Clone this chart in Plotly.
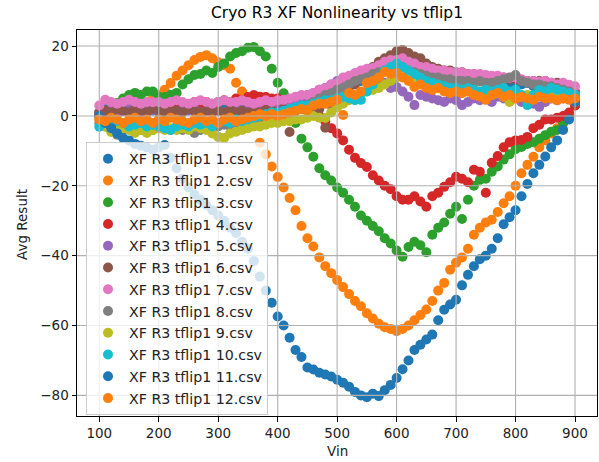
import plotly.graph_objects as go

# ---------------- data ----------------
vin = list(range(100, 901, 10))

series_names = ["XF R3 tflip1 %d.csv" % i for i in range(1, 13)]
colors = ["#1f77b4", "#ff7f0e", "#2ca02c", "#d62728", "#9467bd", "#8c564b",
          "#e377c2", "#7f7f7f", "#bcbd22", "#17becf", "#1f77b4", "#ff7f0e"]

s1 = [1, 2, 1.5, 2.5, 2, 1.5, 2, 2.5, 1.5, 2,
      2.5, 1.5, 2, 2.5, 1.5, 2, 2.5, 1.5, 2, 2.5,
      1.5, 2, 2.5, 2, 1.5, 2.5, 2, 1.5, 2.5, 2,
      2, 2.5, 1.5, 2.5, 3, 4, 4.5, 5, 6, 6.5,
      7, 7.4, 8.5, 9.5, 10, 11, 12, 13, 13.5, 14,
      14, 13.5, 13, 14, 14, 12, 11.5, 11, 10.5, 11,
      11, 10, 10.5, 9.7, 10, 9.5, 9, 9.4, 10, 9,
      9.5, 9, 9.4, 8.5, 8, 8.5, 7.5, 8, 7.5, 7,
      6]
s2 = [0, 0.5, 1, 0.5, 1.5, 1, 2, 2.5,
      3.5, 5, 6, 7.5, 9.4, 11.5, 13, 14.5, 16, 16.9,
      17.4, 16.5, 15.4, 14.5, 13.5, 9.5, 7, 3, -2, -7.7,
      -11, -14.5, -17.5, -20.5, -23.5, -27, -31.5, -35, -37.4, -40.5,
      -43, -45, -47, -49, -51, -53, -54.5, -56.5, -58, -59.5,
      -60.5, -61, -61.6, -61, -60, -58.5, -57, -55.4, -53, -50,
      -47.8, -44, -42, -40.5, -38, -34, -32, -30.5, -29.7, -27.5,
      -25, -23, -20, -16.4, -14, -11.7, -9, -7, -5, -3.5,
      -2, 0, 4]
s3 = [0, 1, 2.5, 3.7, 5, 6, 6.6, 6, 7, 7,
      5.5, 5.4, 6, 6.6, 9, 10.5, 11.7, 12, 13, 12.3,
      14, 15, 17, 18, 18.5, 19.5, 19.7, 18.5, 17, 13.5,
      9.5, 6.5, 3, -2, -6.5, -9, -11.7, -15, -17, -18.5,
      -20.5, -22, -24, -26, -28.5, -30, -31.5, -33, -35, -36.5,
      -38.5, -40.3, -37.5, -36, -37, -39, -34, -32, -30.5, -28,
      -26, -29.5, -24, -20, -18.3, -18, -16, -14.5, -12.5, -11,
      -9.5, -8.9, -8, -7.5, -6.5, -5.5, -4.5, -4, -2, 0,
      3]
s4 = [0, 1, 2, 1.5, 2, 2.5, 2, 3, 2.5, 3,
      3, 2.5, 3.5, 3, 3.5, 3, 4, 3.5, 4, 3.5,
      4, 4.5, 4, 5, 4.5, 5.4, 6, 5.5, 5.4, 5,
      5, 4.5, 4, 3.5, 3, 2, 1, 0, -1.5, -3.5,
      -5, -7, -9.7, -12, -13.5, -14.6, -17, -18.5, -20, -21,
      -23, -24, -24, -23, -24.5, -26, -23, -22, -20.3, -19,
      -17.4, -18, -19, -15.4, -16, -22, -13.4, -11.5, -9, -7.5,
      -7, -6.9, -6, -3.5, -2.5, -1, -1, -0.5, 0, 1,
      3]
s5 = [1, 1.5, 2, 1, 1.5, 2, 1.5, 1, 2, 1.5,
      1, 2, 1.5, 1, 2, 1.5, 2, 1, 1.5, 2,
      1.5, 1, 2, 1.5, 2, 1.5, 2.5, 2, 2.5, 3,
      3, 3.5, 4, 4.5, 5, 6, 6.5, 7.5, 8, 9,
      10, 10.5, 11, 11.7, 11.5, 12, 11.5, 10.5, 9.5, 8,
      8.3, 7, 5.5, 3.1, 6, 5.5, 5, 4.5, 4, 5,
      4.5, 3.1, 4, 5, 4.5, 5, 4, 5.5, 5, 4.5,
      5, 4, 4.5, 3.5, 2.6, 4, 5, 4.5, 5, 5.5,
      5]
s6 = [1, 1.5, 1, 2, 1.5, 1, 2, 1.5, 1, 2,
      1.5, 1, 2, 1.5, 1, 2, 1.5, 1, 1.5, 1,
      1.5, 1, 2, 1, 1.5, 1, 1.5, 1, 2, 1.5,
      1, 2, -4.6, 1.5, 2, 1.5, 2.5, 2, -3.4, 3,
      4, 5.5, 7, 9, 11, 12.5, 14, 15.5, 16.5, 17.4,
      18.5, 18.9, 18, 17, 16.5, 15, 14, 13.5, 13, 13,
      12.5, 12.5, 12, 12, 11.5, 11.5, 11, 11, 11, 10.5,
      10.5, 10, 10, 10, 10, 10, 9.5, 9.5, 9, 8.5,
      7]
s7 = [3, 4.6, 4, 3.5, 4, 4.6, 4, 3.5, 4, 3.9,
      4, 3.5, 4, 4.5, 4, 3.5, 4, 4.5, 4, 3.5,
      4, 4.5, 4, 4, 4.5, 4, 3.5, 4, 4.5, 4,
      4.5, 4.6, 5, 5.5, 6, 6, 6.6, 7.5, 8, 9,
      9.4, 11, 11.5, 12.3, 13, 13.5, 13.7, 14.5, 15.5, 16,
      16, 16.5, 15.5, 15, 14, 14, 13.5, 13, 13, 12.6,
      12.5, 12.5, 12, 12, 12, 11.7, 11.5, 11.5, 11, 10.9,
      11, 10.5, 10, 10, 9.7, 10, 9.5, 9, 9.5, 8.9,
      8.5]
s8 = [-2, -3, -4, -5.4, -4, -3, -3.5, -4, -3, -4,
      -3.5, -3, -4, -3.5, -4, -3, -4.9, -4, -3.5, -3,
      -3, -2.5, -3, -2, -2.5, -2, -1.5, -1, -1.5, -0.5,
      0, 0.5, 1, 1.5, 2.5, 3, 4, 5, 6, 6.5,
      7.5, 8, 9, 10, 10.5, 11, 12, 12.5, 13, 13.5,
      14, 13.5, 13, 12.5, 12, 11.5, 11, 11, 10.5, 10.5,
      10, 10, 10, 9.5, 10, 9.5, 9.5, 10, 10.5, 11,
      11.7, 10, 9.5, 9, 9, 8.5, 8.5, 8, 7.5, 7,
      6]
s9 = [-1, -3, -4.6, -4, -3.5, -4, -4.9, -4, -4.9, -4,
      -3.5, -4, -3.5, -4, -3.5, -4, -3, -3.5, -4, -5,
      -6, -6.3, -5, -4.5, -4, -3.5, -3, -3, -2.5, -2,
      -2, -1.5, -1.5, -1, -1, -0.5, 0, -0.5, -0.6, 1,
      2.5, 3.5, 4.5, 5.5, 6.5, 7, 7.4, 8, 9, 10,
      11, 11.5, 10.5, 10, 9.5, 9, 8.5, 8, 7.5, 7.5,
      7, 7.5, 7, 6.5, 7, 6.5, 6, 6.5, 5.5, 4,
      5, 5.5, 6, 5.5, 6, 5.5, 6, 5.5, 6, 5,
      4]
s10 = [-3.1, -2, -2.5, -1.5, -2, -3, -2.5, -2, -3, -2.5,
       -3, -3.5, -4, -3, -2.5, -3, -2, -2.5, -2, -3,
       -2, -1.5, -2, -1, -1.5, -1, -0.5, 0, 0.5, 1,
       1, 1.5, 2, 2.5, 3, 3, 3.5, 4, 4.5, 4.5,
       5, 5.5, 5, 4.5, 4.6, 7, 9, 11, 13, 14,
       15, 14, 13, 12, 11, 10, 9.5, 9, 8.5, 8,
       8, 7.5, 8, 7.5, 7, 7.5, 7, 7.5, 8, 7,
       7.5, 6, 3.1, 6, 7.4, 7, 8, 7.5, 7, 6.5,
       6]
s11 = [0, -2, -3.5, -5, -6.3, -7, -8, -8.5, -9, -9.7,
       -9, -8.3, -12, -15, -18, -20.5, -22.5, -24, -25.5, -27,
       -28.5, -30, -32, -33.5, -36, -38, -41.5, -46, -50, -53.5,
       -57.4, -60, -63.5, -67, -69, -72, -72.6, -73.5, -74, -74.6,
       -75.5, -76.4, -77.5, -79, -80, -80.5, -79.5, -80.2, -78.5, -77,
       -75, -72.5, -70, -67, -65.5, -64, -62.6, -58.5, -55.5, -54,
       -52.6, -48.5, -45.5, -43, -41, -40, -38, -35, -31, -29,
       -27, -23, -19.5, -16.4, -14, -11.6, -9, -7, -4, -1,
       4]
s12 = [-1, -1.5, -0.5, -1, -2, -1, -0.5, -1.5, -1, -2,
       -1, -1.5, -0.5, -1, -1.5, -2, -1, -0.5, -1.5, -1,
       -2, -1, -0.5, -1.5, -1, -0.5, 0, 0.5, 0, 0.5,
       0, 0.5, 1, 1.5, 2, 1.7, 3, 3.5, 3.5, 4,
       4.6, 0.3, 6.6, 6, 7, 9.4, 10, 11, 12.6, 12,
       12.3, 11, 10, 8.3, 9, 8, 7.4, 8, 7, 6.6,
       7, 6.5, 7, 6, 5.5, 4.6, 6, 6.6, 5.5, 6,
       5, 5.5, 5, 4.6, 5.5, 5, 5, 4.5, 5, 4.6,
       5]

all_series = [s1, s2, s3, s4, s5, s6, s7, s8, s9, s10, s11, s12]

x_ticks = [100, 200, 300, 400, 500, 600, 700, 800, 900]
y_ticks = [-80, -60, -40, -20, 0, 20]

title_text = "Cryo R3 XF Nonlinearity vs tflip1"
x_title = "Vin"
y_title = "Avg Result"

# ---------------- figure ----------------
FONT = "DejaVu Sans"
W, H = 599, 462
ML, MR, MT, MB = 77, 2, 30, 46
PW, PH = W - ML - MR, H - MT - MB

fig = go.Figure()
for name, ys, c in zip(series_names, all_series, colors):
    fig.add_trace(go.Scatter(
        x=vin, y=ys, mode="markers", name=name, legendgroup=name,
        marker=dict(size=10, color=c, line=dict(width=0)),
    ))

shapes = []
for xv in x_ticks:
    shapes.append(dict(type="line", xref="x", yref="paper", x0=xv, x1=xv, y0=0, y1=1,
                       line=dict(color="#b0b0b0", width=1.1), layer="above"))
for yv in y_ticks:
    shapes.append(dict(type="line", xref="paper", yref="y", x0=0, x1=1, y0=yv, y1=yv,
                       line=dict(color="#b0b0b0", width=1.1), layer="above"))

axis_common = dict(
    showgrid=False, zeroline=False, showline=True, mirror=True,
    linecolor="black", linewidth=1, ticks="outside", ticklen=4.5,
    tickwidth=1, tickcolor="black", tickfont=dict(family=FONT, size=13.5, color="#222"),
)

fig.update_layout(
    width=W, height=H,
    margin=dict(l=ML, r=MR, t=MT, b=MB, pad=0),
    paper_bgcolor="white", plot_bgcolor="white",
    font=dict(family=FONT, color="black"),
    title=dict(text=title_text, x=(ML + PW / 2) / W, xanchor="center",
               y=1 - 13 / H, yanchor="middle", yref="container",
               font=dict(family=FONT, size=15.5, color="black")),
    xaxis=dict(range=[62.5, 937], tickvals=x_ticks, **axis_common),
    yaxis=dict(range=[-85.9, 24.6], tickvals=y_ticks, **axis_common),
    shapes=shapes,
    showlegend=True,
    legend=dict(
        x=(86 - ML) / PW, y=(416 - 142) / PH, xanchor="left", yanchor="top",
        bgcolor="rgba(255,255,255,0.8)", bordercolor="#cccccc", borderwidth=1,
        font=dict(family=FONT, size=14.2, color="#222"),
        tracegroupgap=0.3, traceorder="grouped", itemsizing="trace", itemwidth=32,
    ),
    annotations=[
        dict(text=x_title, xref="paper", yref="paper", x=0.5, y=(416 - 451) / PH,
             xanchor="center", yanchor="middle", showarrow=False,
             font=dict(family=FONT, size=13.5, color="#222")),
        dict(text=y_title, xref="paper", yref="paper", x=(22 - ML) / PW, y=(416 - 225) / PH,
             xanchor="center", yanchor="middle", showarrow=False, textangle=-90,
             font=dict(family=FONT, size=13.5, color="#222")),
    ],
)

fig.write_html("out.html", config={"displayModeBar": False},
               post_script="document.body.style.margin='0';document.body.style.overflow='hidden';")
